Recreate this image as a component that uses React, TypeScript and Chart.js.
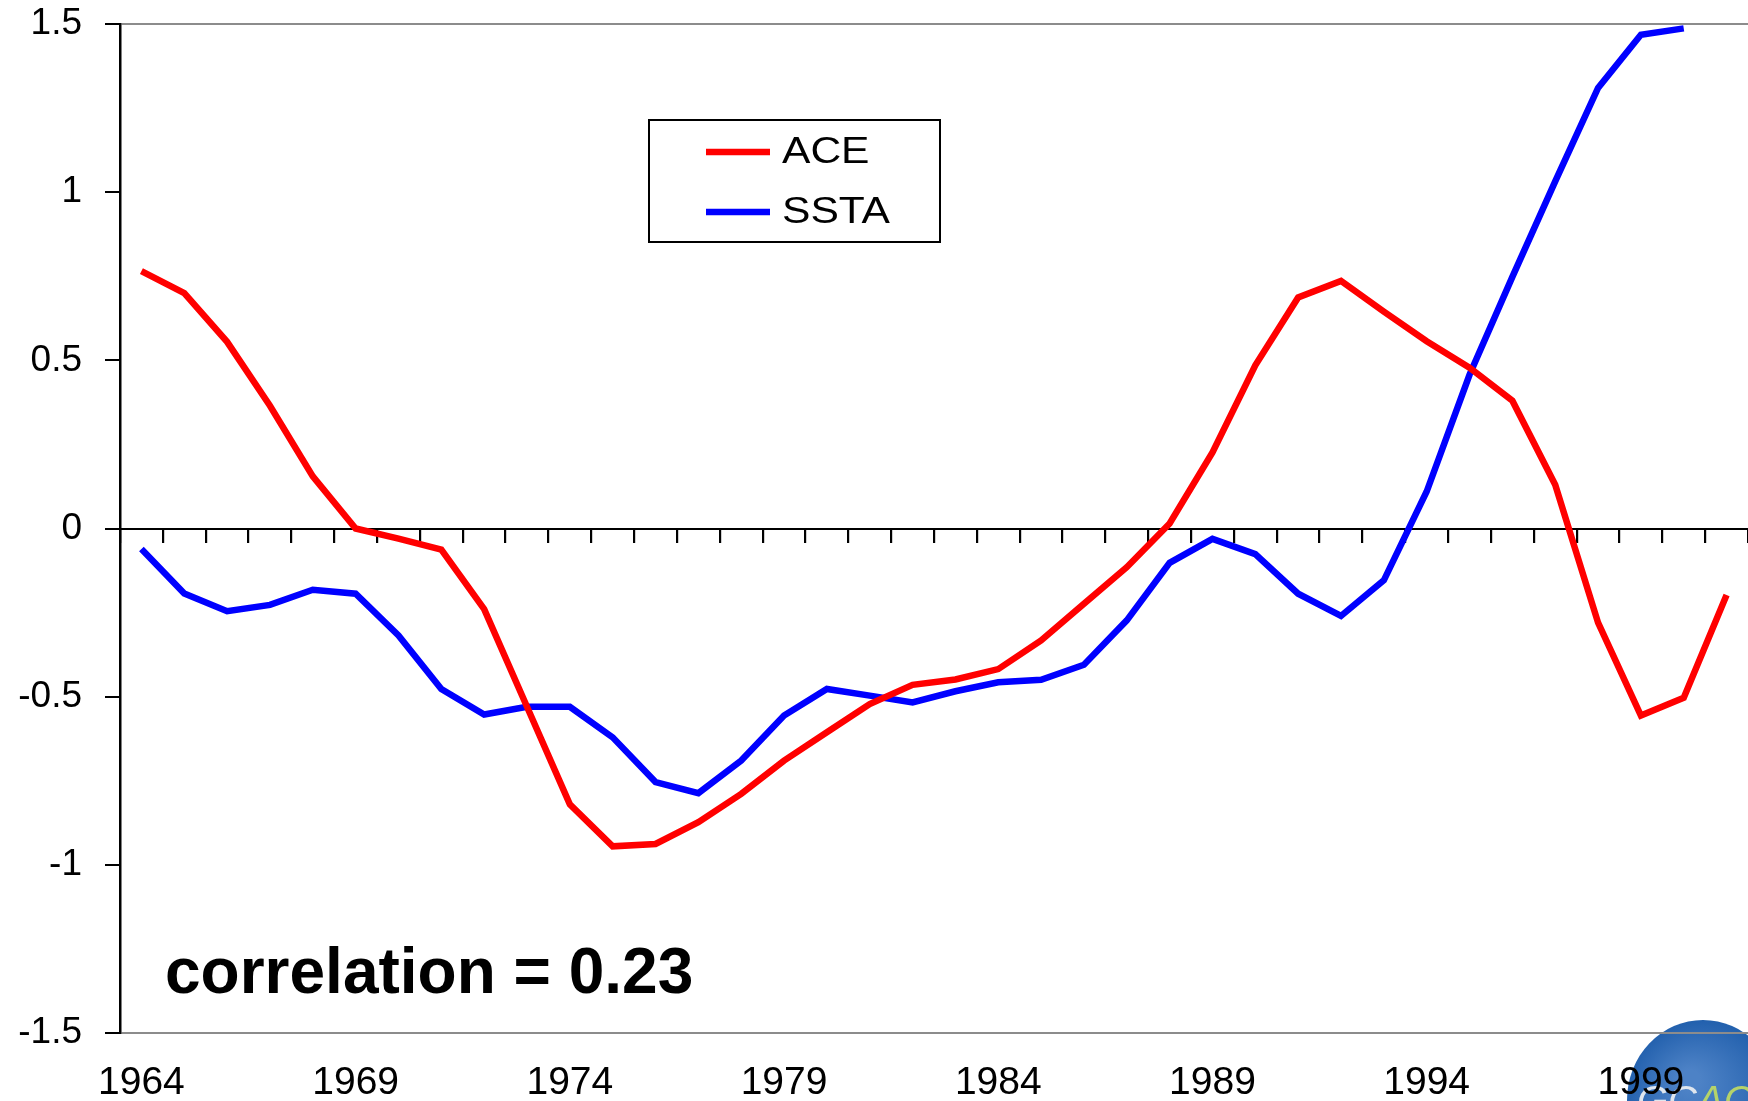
import React, { useEffect, useRef } from 'react';
import { Chart, registerables } from 'chart.js';

Chart.register(...registerables);

const years = [
  '1964', '1965', '1966', '1967', '1968', '1969', '1970', '1971', '1972', '1973',
  '1974', '1975', '1976', '1977', '1978', '1979', '1980', '1981', '1982', '1983',
  '1984', '1985', '1986', '1987', '1988', '1989', '1990', '1991', '1992', '1993',
  '1994', '1995', '1996', '1997', '1998', '1999', '2000', '2001',
];

const aceValues = [
  0.765, 0.70, 0.555, 0.365, 0.155, 0.0, -0.03, -0.063, -0.24, -0.53,
  -0.82, -0.945, -0.938, -0.873, -0.789, -0.69, -0.606, -0.522, -0.465, -0.449,
  -0.418, -0.333, -0.224, -0.115, 0.015, 0.226, 0.485, 0.687, 0.736, 0.645,
  0.557, 0.478, 0.38, 0.13, -0.28, -0.556, -0.503, -0.198,
];

const sstaValues = [
  -0.061, -0.193, -0.246, -0.227, -0.182, -0.194, -0.318, -0.477, -0.553, -0.53,
  -0.53, -0.621, -0.754, -0.787, -0.69, -0.556, -0.477, -0.497, -0.517, -0.484,
  -0.457, -0.45, -0.405, -0.273, -0.102, -0.031, -0.076, -0.194, -0.26, -0.154,
  0.11, 0.457, 0.748, 1.032, 1.31, 1.468, 1.487, null,
];

const xTickLabels = ['1964', '1969', '1974', '1979', '1984', '1989', '1994', '1999'];
const yTickValues = [-1.5, -1, -0.5, 0, 0.5, 1, 1.5];
const seriesNames = ['ACE', 'SSTA'];
const seriesColors = ['#ff0000', '#0000ff'];
const annotationText = 'correlation = 0.23';

const FONT = "'Liberation Sans', Arial, Helvetica, sans-serif";

const decorPlugin = {
  id: 'decor',
  beforeDraw(chart: any) {
    const ctx = chart.ctx;
    ctx.save();
    // partial logo circle in the bottom-right corner
    const g = ctx.createRadialGradient(1690, 1080, 10, 1703, 1100, 80);
    g.addColorStop(0, '#4d82c6');
    g.addColorStop(1, '#2260ad');
    ctx.fillStyle = g;
    ctx.beginPath();
    ctx.ellipse(1703, 1100, 76, 80, 0, 0, Math.PI * 2);
    ctx.fill();
    ctx.font = `italic 40px ${FONT}`;
    ctx.textBaseline = 'alphabetic';
    ctx.fillStyle = '#dfe6ee';
    ctx.fillText('GC', 1637, 1114);
    const w = ctx.measureText('GC').width;
    ctx.fillStyle = '#b5d36a';
    ctx.fillText('ACI', 1637 + w, 1114);
    ctx.restore();
  },
  afterDraw(chart: any) {
    const ctx = chart.ctx;
    ctx.save();
    // legend box
    ctx.strokeStyle = '#000';
    ctx.lineWidth = 2;
    ctx.strokeRect(649, 120, 291, 122);
    const rows = [152, 212];
    seriesNames.forEach((name, i) => {
      ctx.strokeStyle = seriesColors[i];
      ctx.lineWidth = 6.5;
      ctx.beginPath();
      ctx.moveTo(706, rows[i]);
      ctx.lineTo(770, rows[i]);
      ctx.stroke();
      ctx.save();
      ctx.translate(782, rows[i] + 1);
      ctx.scale(1.15, 1);
      ctx.font = `37px ${FONT}`;
      ctx.fillStyle = '#000';
      ctx.textBaseline = 'middle';
      ctx.textAlign = 'left';
      ctx.fillText(name, 0, 0);
      ctx.restore();
    });
    // correlation annotation
    ctx.font = `bold 64px ${FONT}`;
    ctx.fillStyle = '#000';
    ctx.textBaseline = 'alphabetic';
    ctx.textAlign = 'left';
    ctx.fillText(annotationText, 165, 993);
    ctx.restore();
  },
};

export default function App() {
  const canvasRef = useRef<HTMLCanvasElement | null>(null);

  useEffect(() => {
    const canvas = canvasRef.current;
    if (!canvas) return;
    const chart = new Chart(canvas, {
      type: 'line',
      data: {
        labels: years,
        datasets: [
          {
            label: seriesNames[0],
            data: aceValues,
            borderColor: seriesColors[0],
            backgroundColor: seriesColors[0],
            borderWidth: 6.5,
            pointRadius: 0,
            tension: 0,
            fill: false,
          },
          {
            label: seriesNames[1],
            data: sstaValues,
            borderColor: seriesColors[1],
            backgroundColor: seriesColors[1],
            borderWidth: 6.5,
            pointRadius: 0,
            tension: 0,
            fill: false,
            spanGaps: false,
          },
        ],
      },
      options: {
        animation: false,
        responsive: false,
        maintainAspectRatio: false,
        layout: { padding: { top: 24, left: 0, right: 0, bottom: 0 } },
        plugins: {
          legend: { display: false },
          tooltip: { enabled: false },
          title: { display: false },
        },
        scales: {
          x: {
            type: 'category',
            position: 'bottom',
            offset: true,
            grid: { display: false, drawTicks: false, offset: true },
            border: { display: false },
            ticks: {
              autoSkip: false,
              maxRotation: 0,
              minRotation: 0,
              padding: 27,
              color: '#000',
              font: { family: FONT, size: 39 },
              callback: (_v: any, idx: number) =>
                xTickLabels.includes(years[idx]) ? years[idx] : '',
            },
            afterFit: (s: any) => {
              s.height = 68;
              s.paddingLeft = 0;
              s.paddingRight = 0;
            },
          },
          x2: {
            type: 'category',
            axis: 'x',
            position: { y: 0 },
            offset: true,
            grid: {
              display: true,
              drawOnChartArea: false,
              drawTicks: true,
              tickLength: 13,
              offset: true,
              color: '#000',
              tickColor: '#000',
              lineWidth: 2.2,
            },
            border: { display: true, color: '#000', width: 2 },
            ticks: { display: false, autoSkip: false, padding: 0 },
            afterFit: (s: any) => {
              s.height = 0;
              s.paddingLeft = 0;
              s.paddingRight = 0;
            },
          },
          y: {
            type: 'linear',
            min: -1.5,
            max: 1.5,
            afterBuildTicks: (s: any) => {
              s.ticks = yTickValues.map((v) => ({ value: v }));
            },
            grid: {
              display: true,
              drawOnChartArea: true,
              drawTicks: true,
              tickLength: 15,
              lineWidth: 2,
              color: (c: any) =>
                c.tick && Math.abs(c.tick.value) === 1.5 ? '#8c8c8c' : 'rgba(0,0,0,0)',
              tickColor: '#000',
            },
            border: { display: true, color: '#000', width: 2.5 },
            ticks: {
              padding: 23,
              color: '#000',
              font: { family: FONT, size: 37 },
              callback: (v: any) => String(v),
            },
            afterFit: (s: any) => {
              s.width = 120;
              s.paddingTop = 0;
              s.paddingBottom = 0;
            },
          },
        },
      } as any,
      plugins: [decorPlugin],
    });
    return () => chart.destroy();
  }, []);

  return (
    <div style={{ position: 'fixed', left: 0, top: 0, width: 1748, height: 1101, background: '#fff' }}>
      <canvas ref={canvasRef} width={1748} height={1101} style={{ width: 1748, height: 1101, display: 'block' }} />
    </div>
  );
}
